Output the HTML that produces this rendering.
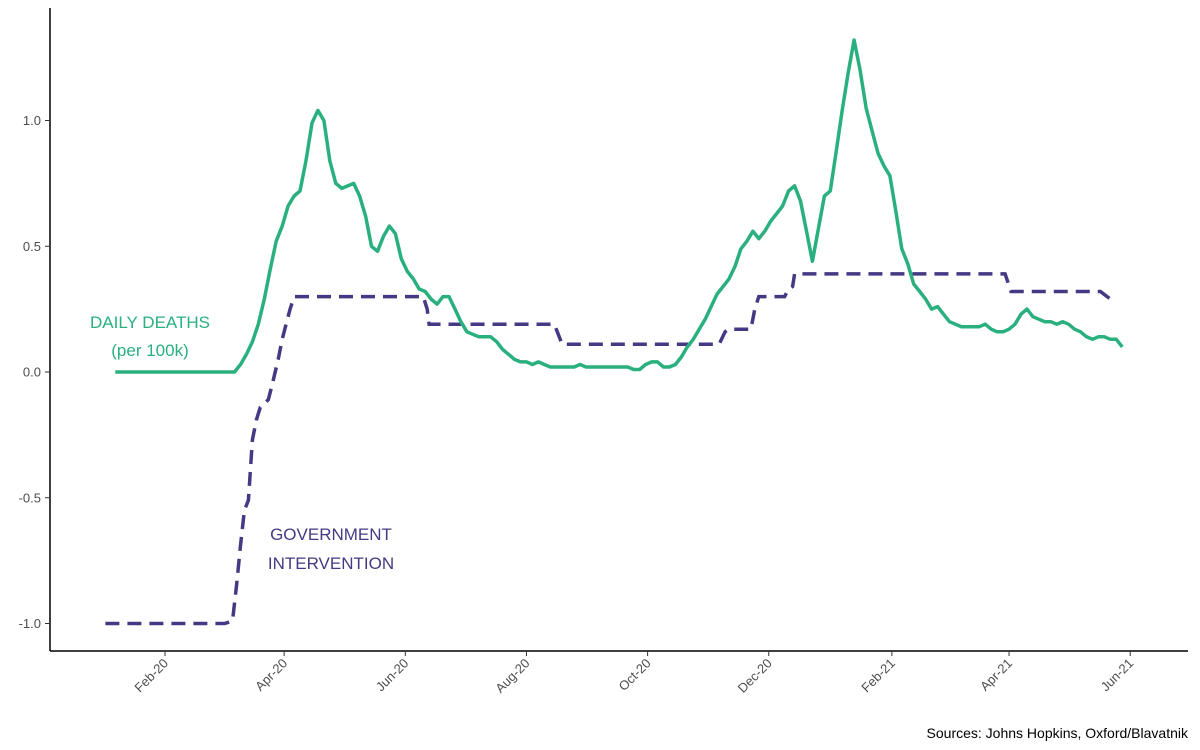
<!DOCTYPE html>
<html><head><meta charset="utf-8"><style>
body{margin:0;background:#fff;}
svg{display:block;font-family:"Liberation Sans",Arial,sans-serif;}
</style></head><body>
<svg id="chart" width="1200" height="750" viewBox="0 0 1200 750">
<g id="axes"></g>
<g id="series"></g>
<text x="150" y="328" text-anchor="middle" font-size="17" fill="#2ab07f">DAILY DEATHS</text>
<text x="150" y="356" text-anchor="middle" font-size="17" fill="#2ab07f">(per 100k)</text>
<text x="331" y="540" text-anchor="middle" font-size="17" fill="#443a83">GOVERNMENT</text>
<text x="331" y="569" text-anchor="middle" font-size="17" fill="#443a83">INTERVENTION</text>
<text x="1188" y="738" text-anchor="end" font-size="14" fill="#000">Sources: Johns Hopkins, Oxford/Blavatnik</text>
</svg>
<script>
// tick labels and positions (days since 2020-02-01)
const xTickLabels = ["Feb-20","Apr-20","Jun-20","Aug-20","Oct-20","Dec-20","Feb-21","Apr-21","Jun-21"];
const xTickDays = [0,60,121,182,243,304,366,425,486];
const yTicks = [-1.0,-0.5,0.0,0.5,1.0];
const yTickLabels = ["-1.0","-0.5","0.0","0.5","1.0"];
// daily deaths: start day (-25 = Jan 7 2020), step 3 days
const deathsStartDay = -25;
const deathsStep = 3;
const deathsValues = [0,0,0,0,0,0,0,0,0,0,0,0,0,0,0,0,0,0,0,0,
0,.03,.07,.12,.19,.29,.41,.52,.58,.66,.70,.72,.84,.99,1.04,1.00,.84,.75,.73,.74,.75,.70,.62,.50,.48,.54,.58,.55,.45,.40,.37,.33,.32,.29,.27,.30,.30,.25,.20,.16,.15,.14,.14,.14,.12,.09,.07,.05,.04,.04,.03,.04,.03,.02,.02,.02,.02,.02,.03,.02,.02,.02,.02,.02,.02,.02,.02,.01,.01,.03,.04,.04,.02,.02,.03,.06,.10,.13,.17,.21,.26,.31,.34,.37,.42,.49,.52,.56,.53,.56,.60,.63,.66,.72,.74,.68,.56,.44,.57,.70,.72,.88,1.04,1.19,1.32,1.20,1.05,.96,.87,.82,.78,.64,.49,.43,.35,.32,.29,.25,.26,.23,.20,.19,.18,.18,.18,.18,.19,.17,.16,.16,.17,.19,.23,.25,.22,.21,.20,.20,.19,.20,.19,.17,.16,.14,.13,.14,.14,.13,.13,.10];
// government intervention (days since 2020-02-01, value)
const govDays = [-30,30,34,36,38,40,42,44,46,48,52,54,57,59,61,63,65,130,132,133,196,199,200,279,282,284,295,297,299,312,314,316,317,423,426,471,476,478];
const govValues = [-1,-1,-.99,-.85,-.69,-.55,-.51,-.27,-.19,-.14,-.11,-.05,.05,.13,.19,.25,.30,.30,.25,.19,.19,.13,.11,.11,.16,.17,.17,.25,.30,.30,.33,.34,.39,.39,.32,.32,.29,.27];

const X0=165, PXD=1.986, Y0=372, PXU=251.5;
const xs = d => X0 + d*PXD;
const ys = v => Y0 - v*PXU;
const NS="http://www.w3.org/2000/svg";
const axes=document.getElementById('axes'), series=document.getElementById('series');
function mk(tag,attrs,parent){const e=document.createElementNS(NS,tag);for(const k in attrs)e.setAttribute(k,attrs[k]);parent.appendChild(e);return e;}

let e=mk('line',{x1:50,y1:8,x2:50,y2:651,stroke:'#000','stroke-width':1.5},axes);


e=mk('line',{x1:50,y1:651,x2:1188,y2:651,stroke:'#000','stroke-width':1.5},axes);



yTicks.forEach((v,i)=>{
  const t=mk('line',{x1:45,x2:50,y1:ys(v),y2:ys(v),stroke:'#333','stroke-width':1},axes);
  
  
  const l=mk('text',{x:41,y:ys(v)+4.5,'text-anchor':'end','font-size':13,fill:'#4d4d4d'},axes);
  l.textContent=yTickLabels[i];
  
  
});
xTickDays.forEach((d,i)=>{
  const x=xs(d);
  const t=mk('line',{x1:x,x2:x,y1:651,y2:656,stroke:'#333','stroke-width':1},axes);
  
  
  const l=mk('text',{x:x+4,y:664,'text-anchor':'end','font-size':13,fill:'#4d4d4d',transform:`rotate(-45 ${x+4} 664)`},axes);
  l.textContent=xTickLabels[i];
  
  
});

const gp=govDays.map((d,i)=>`${i?'L':'M'}${xs(d).toFixed(1)},${ys(govValues[i]).toFixed(1)}`).join('');
const g=mk('path',{d:gp,fill:'none',stroke:'#443a83','stroke-width':3.5,'stroke-dasharray':'14 8'},series);



const dp=deathsValues.map((v,i)=>`${i?'L':'M'}${xs(deathsStartDay+i*deathsStep).toFixed(1)},${ys(v).toFixed(1)}`).join('');
const dl=mk('path',{d:dp,fill:'none',stroke:'#2ab07f','stroke-width':3.5,'stroke-linejoin':'round'},series);


</script>
</body></html>
